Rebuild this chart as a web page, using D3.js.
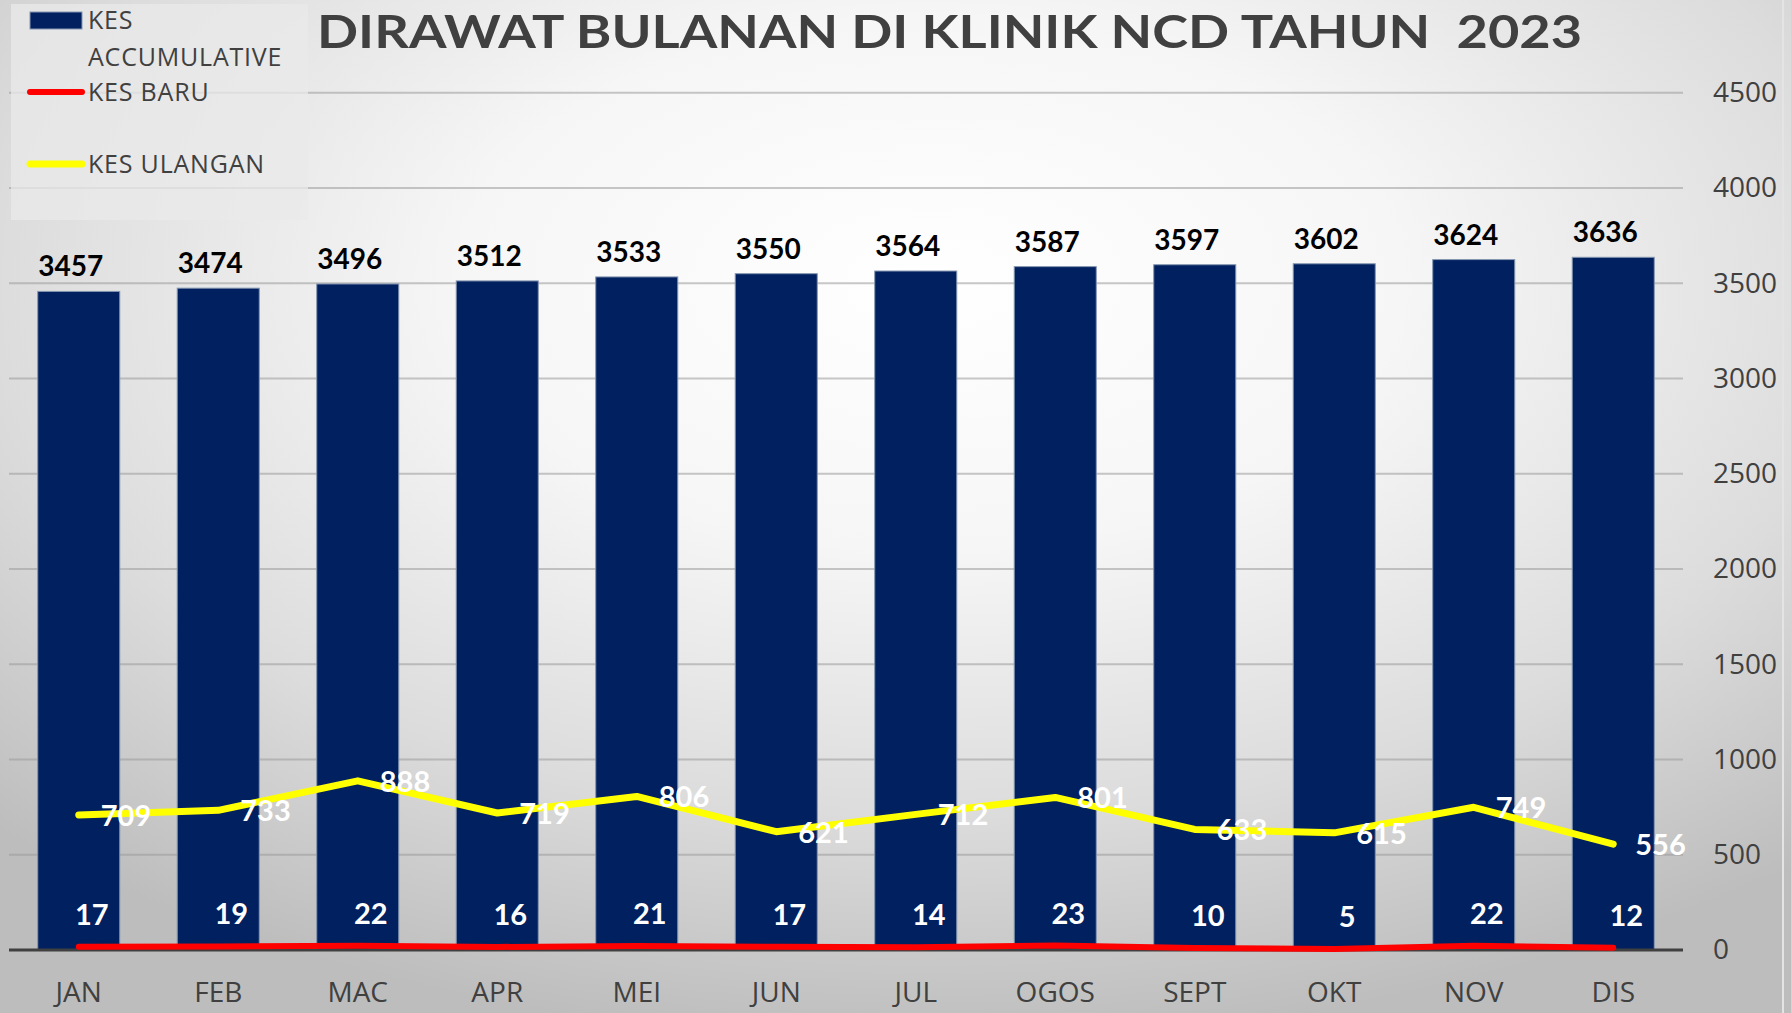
<!DOCTYPE html>
<html>
<head>
<meta charset="utf-8">
<script src="https://cdn.jsdelivr.net/npm/d3@7"></script>
<style>
  html, body { margin: 0; padding: 0; background: #ffffff; }
  svg { display: block; }
</style>
</head>
<body>
<svg id="chart" width="1791" height="1013"></svg>
<script>
// ---- data ----
const months = ["JAN", "FEB", "MAC", "APR", "MEI", "JUN", "JUL", "OGOS", "SEPT", "OKT", "NOV", "DIS"];
const kesAccumulative = [3457, 3474, 3496, 3512, 3533, 3550, 3564, 3587, 3597, 3602, 3624, 3636];
const kesBaru = [17, 19, 22, 16, 21, 17, 14, 23, 10, 5, 22, 12];
const kesUlangan = [709, 733, 888, 719, 806, 621, 712, 801, 633, 615, 749, 556];
const yTicks = [0, 500, 1000, 1500, 2000, 2500, 3000, 3500, 4000, 4500];
const titleText = "DIRAWAT BULANAN DI KLINIK NCD TAHUN  2023";
const legendItems = ["KES", "ACCUMULATIVE", "KES BARU", "KES ULANGAN"];

// ---- setup ----
const W = 1791, H = 1013;
const svg = d3.select("#chart");
const defs = svg.append("defs");
const grad = defs.append("radialGradient").attr("id", "bg")
  .attr("cx", "52%").attr("cy", "28%").attr("r", "75%");
grad.append("stop").attr("offset", "0%").attr("stop-color", "#ffffff");
grad.append("stop").attr("offset", "35%").attr("stop-color", "#f6f6f6");
grad.append("stop").attr("offset", "70%").attr("stop-color", "#dcdcdc");
grad.append("stop").attr("offset", "100%").attr("stop-color", "#bdbdbd");

svg.append("rect").attr("width", W).attr("height", H).attr("fill", "url(#bg)");
svg.append("line").attr("x1", 1783).attr("x2", 1783).attr("y1", 0).attr("y2", H)
  .attr("stroke", "#e4e4e4").attr("stroke-width", 2);

const x = d3.scaleBand().domain(months).range([9, 1683])
  .paddingInner(0.412).paddingOuter(0.206);
const y = d3.scaleLinear().domain([0, 4500]).range([950, 92.7]);

// gridlines
svg.append("g").selectAll("line").data(yTicks.filter(t => t > 0)).join("line")
  .attr("x1", 9).attr("x2", 1683)
  .attr("y1", d => y(d)).attr("y2", d => y(d))
  .attr("stroke", "#9a9a9a").attr("stroke-opacity", 0.55).attr("stroke-width", 2);

// legend background
svg.append("rect").attr("x", 11).attr("y", 4).attr("width", 297).attr("height", 216)
  .attr("fill", "#e9e9e9").attr("fill-opacity", 0.75);

// bars
svg.append("g").selectAll("rect").data(months).join("rect")
  .attr("x", d => x(d))
  .attr("width", x.bandwidth())
  .attr("y", (d, i) => y(kesAccumulative[i]))
  .attr("height", (d, i) => y(0) - y(kesAccumulative[i]))
  .attr("fill", "#002060")
  .attr("stroke", "#8496b0").attr("stroke-width", 1);

// bar labels
svg.append("g").selectAll("text").data(months).join("text")
  .attr("x", d => x(d) + x.bandwidth() / 2 - 8)
  .attr("y", (d, i) => y(kesAccumulative[i]) - 15)
  .attr("text-anchor", "middle")
  .attr("font-family", "Lato, 'Open Sans', sans-serif")
  .attr("font-weight", "bold").attr("font-size", 28)
  .attr("fill", "#000000")
  .text((d, i) => kesAccumulative[i]);

// x axis line
svg.append("line").attr("x1", 9).attr("x2", 1683).attr("y1", y(0)).attr("y2", y(0))
  .attr("stroke", "#404040").attr("stroke-width", 3);

// x axis labels
const xAxis = d3.axisBottom(x).tickSize(0).tickPadding(0);
const gx = svg.append("g").attr("transform", `translate(0, 1002)`).call(xAxis);
gx.select(".domain").remove();
gx.selectAll("text")
  .attr("dy", 0).attr("y", 0)
  .attr("font-family", "'Open Sans', sans-serif").attr("font-size", 28)
  .attr("fill", "#404040");

// y axis labels (right)
const yAxis = d3.axisRight(y).tickValues(yTicks).tickFormat(d3.format("d"))
  .tickSize(0).tickPadding(0);
const gy = svg.append("g").attr("transform", `translate(1713, 0)`).call(yAxis);
gy.select(".domain").remove();
gy.selectAll("text")
  .attr("font-family", "'Open Sans', sans-serif").attr("font-size", 28)
  .attr("fill", "#404040");

// lines
const cx = d => x(d) + x.bandwidth() / 2;
const lineU = d3.line().x((d, i) => cx(months[i])).y(d => y(d));
svg.append("path").datum(kesUlangan).attr("d", lineU)
  .attr("fill", "none").attr("stroke", "#ffff00").attr("stroke-width", 7)
  .attr("stroke-linecap", "round").attr("stroke-linejoin", "round");
svg.append("path").datum(kesBaru).attr("d", lineU)
  .attr("fill", "none").attr("stroke", "#ff0000").attr("stroke-width", 6)
  .attr("stroke-linecap", "round").attr("stroke-linejoin", "round");

// line labels
svg.append("g").selectAll("text").data(kesUlangan).join("text")
  .attr("x", (d, i) => cx(months[i]) + 22)
  .attr("y", d => y(d) + 11)
  .attr("font-family", "Lato, 'Open Sans', sans-serif")
  .attr("font-weight", "bold").attr("font-size", 29)
  .attr("fill", "#ffffff")
  .text(d => d);

svg.append("g").selectAll("text").data(kesBaru).join("text")
  .attr("x", (d, i) => cx(months[i]) + 13)
  .attr("y", d => y(d) - 22)
  .attr("text-anchor", "middle")
  .attr("font-family", "Lato, 'Open Sans', sans-serif")
  .attr("font-weight", "bold").attr("font-size", 29)
  .attr("fill", "#ffffff")
  .text(d => d);

// title
svg.append("text").attr("x", 317).attr("y", 48)
  .attr("font-family", "Lato, 'Open Sans', sans-serif").attr("font-weight", "bold")
  .attr("font-size", 46).attr("fill", "#404040")
  .attr("textLength", 1265).attr("lengthAdjust", "spacingAndGlyphs")
  .style("white-space", "pre")
  .text(titleText);

// legend
const lg = svg.append("g");
lg.append("rect").attr("x", 30).attr("y", 12).attr("width", 52).attr("height", 17)
  .attr("fill", "#002060").attr("stroke", "#8496b0").attr("stroke-width", 1);
lg.append("line").attr("x1", 30).attr("x2", 82).attr("y1", 92).attr("y2", 92)
  .attr("stroke", "#ff0000").attr("stroke-width", 6).attr("stroke-linecap", "round");
lg.append("line").attr("x1", 30).attr("x2", 82).attr("y1", 164).attr("y2", 164)
  .attr("stroke", "#ffff00").attr("stroke-width", 7).attr("stroke-linecap", "round");
const legY = [29, 66, 101, 173];
lg.selectAll("text").data(legendItems).join("text")
  .attr("x", 88).attr("y", (d, i) => legY[i])
  .attr("font-family", "'Open Sans', sans-serif").attr("font-size", 25)
  .attr("letter-spacing", 0.8)
  .attr("fill", "#404040")
  .text(d => d);
</script>
</body>
</html>
